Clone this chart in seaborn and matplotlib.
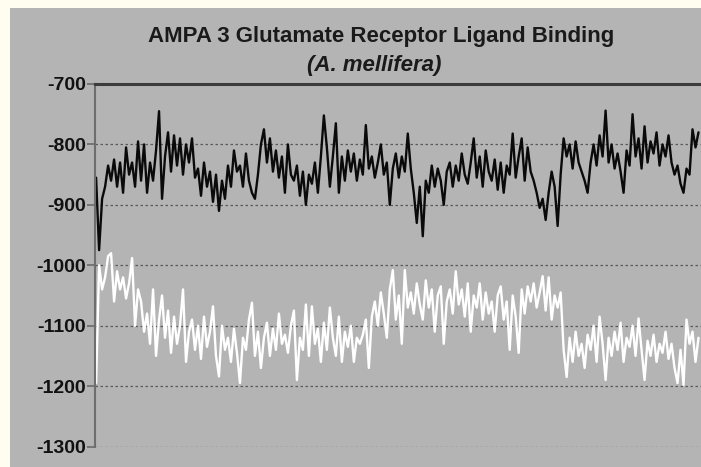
import matplotlib
matplotlib.use("Agg")
import matplotlib.pyplot as plt
import numpy as np
import seaborn as sns
import pandas as pd

# binding energy traces (one value every ~3 px)
black_trace = [
    -855, -975, -890, -870, -835, -860, -825, -870, -830, -880,
    -805, -850, -830, -870, -795, -860, -800, -880, -830, -860,
    -810, -745, -890, -820, -780, -845, -785, -835, -790, -850,
    -800, -830, -790, -855, -840, -885, -830, -870, -845, -895,
    -850, -910, -860, -890, -835, -870, -810, -845, -835, -870,
    -815, -860, -880, -890, -850, -800, -775, -830, -790, -845,
    -810, -855, -820, -880, -800, -850, -860, -835, -885, -845,
    -900, -850, -865, -830, -880, -820, -752, -805, -870, -820,
    -765, -880, -820, -860, -810, -845, -815, -860, -825, -850,
    -768, -840, -820, -855, -830, -800, -850, -830, -900, -840,
    -815, -855, -820, -845, -782, -840, -880, -930, -870, -952,
    -860, -880, -835, -870, -840, -860, -900, -845, -830, -870,
    -835, -860, -815, -850, -865, -830, -790, -855, -820, -870,
    -810, -845, -860, -825, -875, -830, -880, -835, -850, -782,
    -855, -820, -790, -860, -805, -845, -860, -880, -905, -890,
    -925, -880, -845, -870, -935, -850, -790, -820, -800, -840,
    -795, -830, -845, -860, -880, -830, -800, -835, -785, -820,
    -744, -830, -800, -840, -815, -845, -880, -810, -835, -750,
    -820, -790, -840, -770, -830, -795, -815, -780, -835, -800,
    -820, -785, -830, -850, -835, -865, -880, -840, -850, -775,
    -805, -780,
]

white_trace = [
    -1195, -1000, -1040, -1020, -985, -980, -1060, -1010, -1040, -1020,
    -1055, -1030, -988, -1100, -1040, -1060, -1110, -1080, -1130, -1040,
    -1150, -1090, -1050, -1120, -1075, -1145, -1085, -1130, -1100, -1040,
    -1160, -1110, -1090, -1140, -1100, -1155, -1085, -1135, -1110, -1068,
    -1150, -1184, -1100, -1140, -1120, -1160, -1105, -1145, -1195, -1120,
    -1140, -1090, -1062, -1150, -1110, -1170, -1120, -1095, -1150, -1105,
    -1140, -1080, -1130, -1115, -1145, -1100, -1075, -1190, -1120, -1140,
    -1065, -1150, -1068, -1130, -1105, -1160, -1095, -1140, -1070, -1120,
    -1150, -1085, -1160, -1110, -1135, -1100, -1160, -1120, -1130, -1115,
    -1090, -1170, -1085, -1060, -1100, -1045, -1080, -1120, -1040, -1008,
    -1090, -1050, -1130, -1008, -1070, -1045, -1080, -1030, -1065, -1090,
    -1025, -1070, -1040, -1110, -1050, -1035, -1130, -1060, -1040, -1080,
    -1010, -1065, -1040, -1085, -1030, -1110, -1050, -1070, -1030, -1090,
    -1045, -1080, -1060, -1110, -1050, -1035, -1090, -1060, -1140, -1050,
    -1085, -1145, -1040, -1080, -1035, -1060, -1030, -1070, -1045, -1018,
    -1075, -1020, -1090, -1050, -1070, -1045, -1140, -1185, -1120, -1160,
    -1110, -1150, -1130, -1170, -1115, -1140, -1100, -1160, -1085, -1130,
    -1190, -1120, -1150, -1110, -1140, -1095, -1160, -1120, -1135, -1100,
    -1150, -1088, -1140, -1190, -1125, -1150, -1115, -1160, -1130, -1145,
    -1110, -1155, -1130, -1170, -1195, -1140, -1198, -1090, -1130, -1110,
    -1160, -1120,
]

y_ticks = [-700, -800, -900, -1000, -1100, -1200, -1300]

df = pd.concat([
    pd.DataFrame({"step": np.arange(len(black_trace)), "energy": black_trace, "run": "black"}),
    pd.DataFrame({"step": np.arange(len(white_trace)), "energy": white_trace, "run": "white"}),
])

sns.set_style("ticks")
plt.rcParams["font.family"] = ["Liberation Sans", "DejaVu Sans"]

W, H = 701, 467
fig = plt.figure(figsize=(W / 100, H / 100), dpi=100)
fig.patch.set_facecolor("#fffdf0")
# gray panel behind the chart
fig.patches.append(plt.Rectangle((10 / W, 0), 1, 1 - 8 / H, transform=fig.transFigure,
                                 facecolor="#b4b4b4", edgecolor="none", zorder=-10))

ax = fig.add_axes([95.5 / W, 1 - 446.5 / H, 1 - 95.5 / W, (446.5 - 84) / H])
ax.set_facecolor("#b4b4b4")

sns.lineplot(data=df, x="step", y="energy", hue="run",
             palette={"black": "#0a0a0a", "white": "#ffffff"},
             linewidth=1.7, legend=False, estimator=None, ax=ax)

ax.set_xlim(-0.2, (W - 95.5) / 3)
ax.set_ylim(-1300, -700)
ax.set_yticks(y_ticks)
ax.set_yticklabels([str(t) for t in y_ticks], fontsize=14, fontweight="bold", color="#111111")
ax.set_xticks([])
ax.set_xlabel("")
ax.set_ylabel("")
for t in y_ticks[1:]:
    ax.axhline(t, color="#5a5a5a", linestyle=(0, (2, 2)), linewidth=0.9, zorder=0.5)
ax.tick_params(axis="y", length=6, width=1.2, color="#6a6a6a", pad=1)

ax.spines["right"].set_visible(False)
ax.spines["bottom"].set_visible(False)
ax.spines["left"].set_color("#6e6e6e")
ax.spines["left"].set_linewidth(1.5)
ax.spines["top"].set_color("#3c3c3c")
ax.spines["top"].set_linewidth(2.2)

fig.text(381 / W, 1 - 36.5 / H, "AMPA 3 Glutamate Receptor Ligand Binding",
         ha="center", va="center", fontsize=16, fontweight="bold", color="#1a1a1a")
fig.text(374 / W, 1 - 65 / H, "(A. mellifera)", ha="center", va="center",
         fontsize=16, fontweight="bold", style="italic", color="#1a1a1a")

fig.savefig("out.png", dpi=100, facecolor=fig.get_facecolor())
